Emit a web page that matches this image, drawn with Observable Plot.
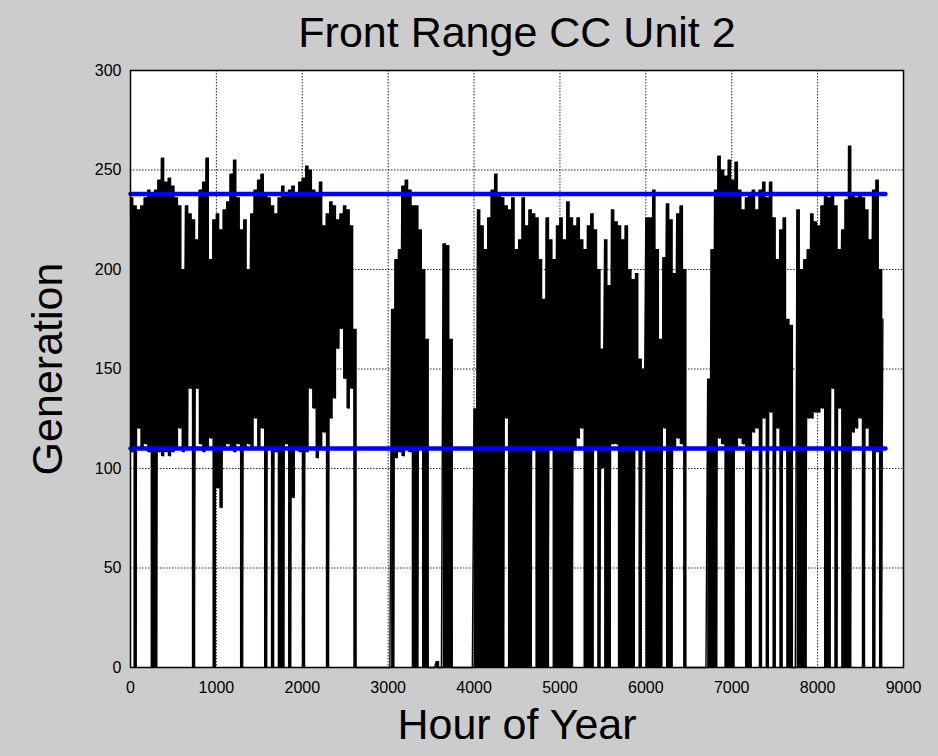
<!DOCTYPE html>
<html>
<head>
<meta charset="utf-8">
<script src="https://cdn.jsdelivr.net/npm/d3@7"></script>
<script src="https://cdn.jsdelivr.net/npm/@observablehq/plot@0.6"></script>
<style>
  html, body { margin: 0; padding: 0; background: #cccccc; }
  #chart { width: 938px; height: 756px; }
</style>
</head>
<body>
<div id="chart"></div>
<script>
// ---- Data ----
// Generation in 40-hour blocks: block peak and block trough
const blockHours = 40;
const peaks = [
  236, 232, 230, 232, 236, 240, 238, 240, 245, 256,
  244, 246, 242, 236, 232, 200, 232, 228, 225, 215,
  240, 244, 256, 205, 225, 228, 220, 230, 234, 248,
  255, 236, 220, 225, 200, 228, 240, 245,
  248, 238, 236, 232, 228, 236, 242, 238, 240, 242, 238, 244,
  246, 252, 250, 240, 238, 244, 222, 228, 234, 232,
  225, 228, 232, 230, 222, 170,
  0, 0, 0, 0, 0, 0, 0, 0, 0, 0,
  180, 205, 210, 242, 245, 240, 232, 232, 220, 200, 165,
  0, 0, 3, 0,
  213, 212, 165,
  0, 0, 0, 0, 0, 0,
  130, 230, 222, 210, 226, 240, 248, 238, 236, 232, 230, 236, 210,
  215,
  236, 222, 230, 228, 226, 205, 185, 226, 215, 205,
  222, 226, 215, 234, 226, 222, 226, 215, 210, 222,
  228, 220, 200, 160, 215, 192, 230, 224, 222, 215,
  222, 200, 195, 198, 155, 150, 226,
  226, 240, 210, 165, 206, 233, 225, 198, 228, 232,
  200,
  0, 0, 0, 0, 0, 0,
  145, 210, 240, 257, 250, 247, 255, 245, 254, 240, 230,
  236, 238, 240, 230, 240, 244, 236, 244, 226, 205,
  220,
  226, 175, 172, 0, 230, 200, 205, 210, 228, 224,
  222, 232, 238, 236, 237, 232, 210, 220, 235, 262,
  238, 236, 238, 236, 230, 215, 240, 245, 200
];
const troughs = [
  108, 0, 120, 110, 112, 108, 0, 0, 108, 106,
  108, 106, 108, 110, 120, 108, 110, 140, 0, 140,
  112, 108, 110, 115, 0, 90, 80, 110, 112, 110,
  108, 112, 0, 110, 112, 110, 125, 110,
  120, 0, 110, 0, 108, 0, 0, 112, 0, 85, 110, 108,
  0, 108, 140, 130, 105, 110, 118, 0, 125, 135,
  160, 170, 145, 130, 140, 0,
  0, 0, 0, 0, 0, 0, 0, 0, 0, 0,
  0, 105, 108, 106, 110, 108, 0, 0, 110, 0, 0,
  0, 0, 0, 0,
  0, 0, 0,
  0, 0, 0, 0, 0, 0,
  0, 0, 0, 0, 0, 0, 0, 0, 0, 125, 0, 0, 0,
  0,
  0, 0, 0, 110, 0, 0, 0, 0, 110, 0,
  0, 0, 0, 0, 0, 110, 115, 120, 0, 0,
  0, 110, 0, 100, 0, 0, 112, 112, 0, 0,
  0, 0, 0, 110, 0, 110, 0,
  0, 0, 0, 0, 120, 0, 0, 110, 115, 112,
  0,
  0, 0, 0, 0, 0, 0,
  0, 0, 0, 115, 112, 0, 0, 0, 110, 115, 112,
  0, 0, 118, 120, 0, 125, 0, 128, 0, 120,
  0,
  110, 0, 0, 0, 0, 0, 0, 125, 125, 128,
  128, 130, 0, 0, 140, 0, 130, 0, 0, 0,
  118, 120, 125, 0, 120, 110, 0, 108, 0
];
const finalHour = 8760;
const finalValue = 175;

// Operating limits (blue lines)
const limitLevels = [238, 110];
const limitSpan = [0, 8790];

// Axis ticks
const xTicks = [0, 1000, 2000, 3000, 4000, 5000, 6000, 7000, 8000, 9000];
const yTicks = [0, 50, 100, 150, 200, 250, 300];

// ---- Build tables ----
const blocks = peaks.map((p, i) => ({hour: i * blockHours, hi: p, lo: troughs[i]}));
blocks.push({hour: finalHour, hi: finalValue, lo: finalValue});

const series = [];
peaks.forEach((p, i) => {
  series.push({hour: i * blockHours, gen: p});
  series.push({hour: i * blockHours + blockHours / 2, gen: troughs[i]});
});
series.push({hour: finalHour, gen: finalValue});

const limits = limitLevels.map(v => ({level: v, start: limitSpan[0], end: limitSpan[1]}));

const font = "'Liberation Sans', Arial, Helvetica, sans-serif";

const chart = Plot.plot({
  width: 938,
  height: 756,
  marginLeft: 130,
  marginRight: 35,
  marginTop: 70,
  marginBottom: 89,
  style: {background: "#cccccc", fontFamily: font, fontSize: "16px", color: "black"},
  x: {domain: [0, 9000], ticks: xTicks, tickSize: 0, tickPadding: 14, label: null, tickFormat: d => `${d}`},
  y: {domain: [0, 300], ticks: yTicks, tickSize: 0, tickPadding: 9, label: null, tickFormat: d => `${d}`},
  marks: [
    Plot.frame({fill: "white", stroke: null}),
    Plot.ruleX(xTicks, {stroke: "black", strokeWidth: 1, strokeDasharray: "1.5,1.5", strokeOpacity: 0.85}),
    Plot.ruleY(yTicks, {stroke: "black", strokeWidth: 1, strokeDasharray: "1.5,1.5", strokeOpacity: 0.85}),
    Plot.areaY(blocks, {x: "hour", y1: "lo", y2: "hi", curve: "step-after", fill: "black"}),
    Plot.line(series, {x: "hour", y: "gen", stroke: "black", strokeWidth: 1.4, strokeLinejoin: "miter", strokeMiterlimit: 2}),
    Plot.link(limits, {x1: "start", x2: "end", y1: "level", y2: "level", stroke: "#0000ff", strokeWidth: 4.5, strokeLinecap: "round"}),
    Plot.frame({stroke: "black", strokeWidth: 1.5}),
    Plot.text(["Front Range CC Unit 2"], {frameAnchor: "top", lineAnchor: "middle", dy: -37, fontSize: 43, fill: "black"}),
    Plot.text(["Hour of Year"], {frameAnchor: "bottom", lineAnchor: "middle", dy: 58, fontSize: 43, fill: "black"}),
    Plot.text(["Generation"], {frameAnchor: "left", textAnchor: "middle", lineAnchor: "middle", dx: -82, rotate: -90, fontSize: 43, fill: "black"})
  ]
});
document.getElementById("chart").appendChild(chart);
</script>
</body>
</html>
